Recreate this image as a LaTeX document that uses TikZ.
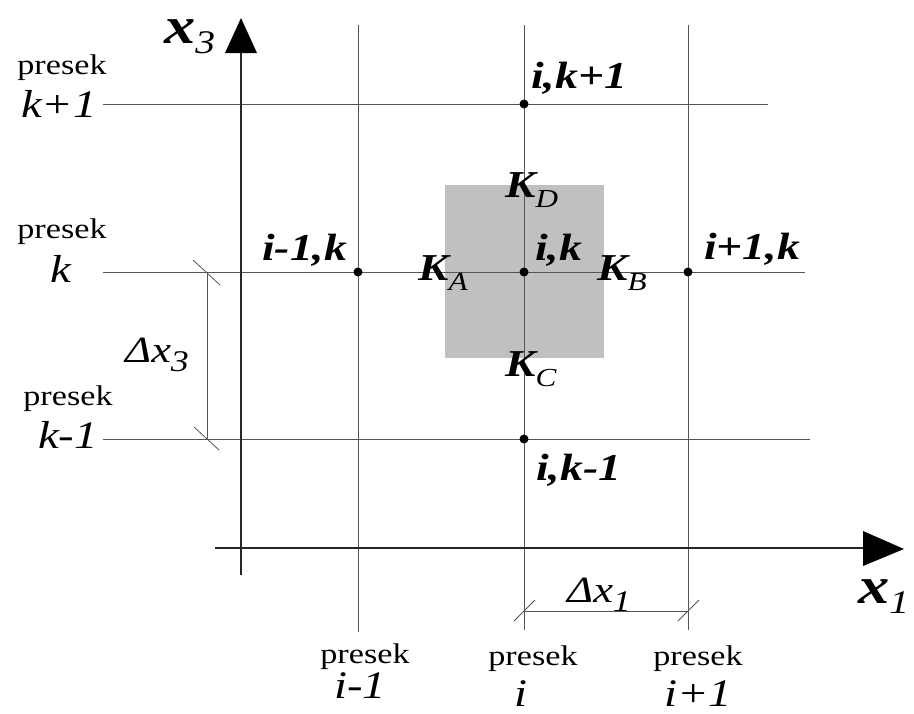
\documentclass[tikz,border=0pt]{standalone}
\usepackage{fontspec}
\setmainfont[FakeStretch=1.2]{Liberation Serif}
\definecolor{cellgray}{RGB}{192,192,192}
\definecolor{gridline}{RGB}{85,85,85}
\tikzset{
  gridln/.style={draw=gridline, line width=0.9pt},
  axisln/.style={draw=black!85, line width=1.8pt},
  dimln/.style={draw=gridline, line width=0.8pt},
  ptdot/.style={circle, fill=black, inner sep=0pt, minimum size=9pt},
  lbl/.style={font=\fontsize{38}{40}\selectfont\bfseries\itshape, inner sep=0pt, anchor=base west},
  pres/.style={font=\fontsize{28.5}{30}\selectfont, inner sep=0pt, anchor=base},
  idx/.style={font=\fontsize{39}{40}\selectfont\itshape, inner sep=0pt, anchor=base},
  axlbl/.style={font=\fontsize{52}{54}\selectfont\bfseries\itshape, inner sep=0pt, anchor=base west},
  dlbl/.style={font=\fontsize{37}{40}\selectfont\itshape, inner sep=0pt, anchor=base west},
}
\newcommand{\Ksub}[1]{\textbf{\textit{K}}\raisebox{-0.28em}{\fontsize{26}{26}\selectfont\mdseries\itshape #1}}
\begin{document}
\begin{tikzpicture}[x=1pt,y=-1pt]
\useasboundingbox (0,0) rectangle (914,713);
% shaded cell
\fill[cellgray] (445,185) rectangle (604,358);
% coordinates
\coordinate (hk1w) at (103,104); \coordinate (hk1e) at (768,104);
\coordinate (hkw) at (103,272);  \coordinate (hke) at (805,272);
\coordinate (hkm1w) at (103,439); \coordinate (hkm1e) at (810,439);
\coordinate (vim1t) at (358,25); \coordinate (vim1b) at (358,632);
\coordinate (vit) at (524,25);   \coordinate (vib) at (524,630);
\coordinate (vip1t) at (688,25); \coordinate (vip1b) at (688,630);
% grid lines
\draw[gridln] (hk1w) -- (hk1e);
\draw[gridln] (hkw) -- (hke);
\draw[gridln] (hkm1w) -- (hkm1e);
\draw[gridln] (vim1t) -- (vim1b);
\draw[gridln] (vit) -- (vib);
\draw[gridln] (vip1t) -- (vip1b);
% axes
\coordinate (x3b) at (241,575); \coordinate (x3t) at (241,50);
\coordinate (x1l) at (215,548); \coordinate (x1r) at (866,548);
\draw[axisln] (x3b) -- (x3t);
\draw[axisln] (x1l) -- (x1r);
\coordinate (x3tip) at (241,18);
\coordinate (x1tip) at (904,549);
\fill[black] (x3tip) -- (225,53) -- (257,53) -- cycle;
\fill[black] (x1tip) -- (863,531) -- (863,566) -- cycle;
% dimension x3
\coordinate (d3t) at (207,272); \coordinate (d3b) at (207,439);
\draw[dimln] (d3t) -- (d3b);
\draw[dimln] (193,260) -- (220,285);
\draw[dimln] (194,427) -- (219,450);
% dimension x1
\coordinate (d1l) at (524,611); \coordinate (d1r) at (688,611);
\draw[dimln] (d1l) -- (d1r);
\draw[dimln] (514,621) -- (535,600);
\draw[dimln] (678,621) -- (699,600);
% points
\node[ptdot] (pk1) at (524,104) {};
\node[ptdot] (pim1) at (358,272) {};
\node[ptdot] (pik) at (524,272) {};
\node[ptdot] (pip1) at (688,272) {};
\node[ptdot] (pkm1) at (524,439) {};
% point labels
\node[lbl] (lk1) at (531,88) {i,k+1};
\node[lbl] (lik) at (535,260) {i,k};
\node[lbl] (lim1) at (262,260) {i-1,k};
\node[lbl] (lip1) at (704,259) {i+1,k};
\node[lbl] (lkm1) at (536,480) {i,k-1};
\node[lbl] (kd) at (505,197) {\Ksub{D}};
\node[lbl] (ka) at (418,280) {\Ksub{A}};
\node[lbl] (kb) at (597,280) {\Ksub{B}};
\node[lbl] (kc) at (505,376) {\Ksub{C}};
% axis labels
\node[axlbl] (lx3) at (164,43) {x\raisebox{-0.2em}{\fontsize{33}{33}\selectfont\mdseries 3}};
\node[axlbl] (lx1) at (858,603) {x\raisebox{-0.2em}{\fontsize{33}{33}\selectfont\mdseries 1}};
\node[dlbl] (ldx3) at (125,362) {Δx\raisebox{-0.25em}{\fontsize{30}{30}\selectfont 3}};
\node[dlbl] (ldx1) at (567,602) {Δx\raisebox{-0.25em}{\fontsize{30}{30}\selectfont 1}};
% presek labels left
\node[pres] (p1) at (62,74) {presek};
\node[idx] (p1i) at (59,117) {k+1};
\node[pres] (p2) at (62,238) {presek};
\node[idx] (p2i) at (61,282) {k};
\node[pres] (p3) at (68,405) {presek};
\node[idx] (p3i) at (68,448) {k-1};
% presek labels bottom
\node[pres] (p4) at (365,663) {presek};
\node[idx] (p4i) at (360,698) {i-1};
\node[pres] (p5) at (533,665) {presek};
\node[idx] (p5i) at (521,706) {i};
\node[pres] (p6) at (698,665) {presek};
\node[idx] (p6i) at (698,706) {i+1};
\end{tikzpicture}
\end{document}
